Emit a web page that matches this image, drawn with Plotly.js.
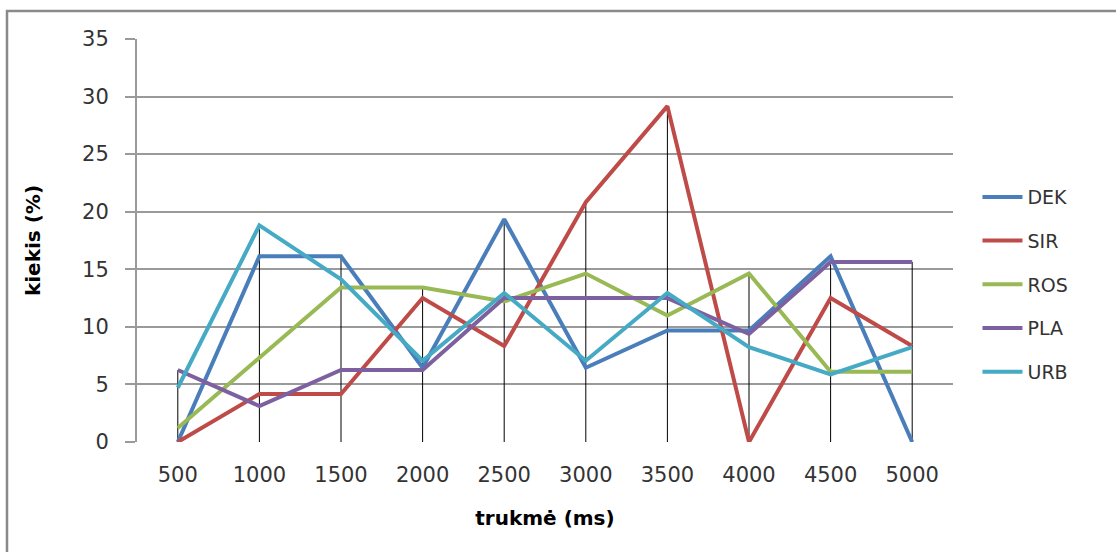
<!DOCTYPE html>
<html>
<head>
<meta charset="utf-8">
<script src="https://cdn.plot.ly/plotly-3.0.1.min.js"></script>
<style>
  html, body { margin: 0; padding: 0; background: #fff; }
  #chart { width: 1116px; height: 552px; }
</style>
</head>
<body>
<div id="chart"></div>
<script>
// Duration categories (ms)
const categories = ['500', '1000', '1500', '2000', '2500', '3000', '3500', '4000', '4500', '5000'];

// Share of responses (%) per group
const dek = [0, 16.13, 16.13, 6.45, 19.35, 6.45, 9.68, 9.68, 16.13, 0];
const sir = [0, 4.17, 4.17, 12.5, 8.33, 20.83, 29.17, 0, 12.5, 8.33];
const ros = [1.22, 7.32, 13.41, 13.41, 12.2, 14.63, 10.98, 14.63, 6.1, 6.1];
const pla = [6.25, 3.13, 6.25, 6.25, 12.5, 12.5, 12.5, 9.38, 15.63, 15.63];
const urb = [4.71, 18.82, 14.12, 7.06, 12.94, 7.06, 12.94, 8.24, 5.88, 8.24];

const seriesNames = ['DEK', 'SIR', 'ROS', 'PLA', 'URB'];
const seriesValues = [dek, sir, ros, pla, urb];
const seriesColors = ['#4a7ebb', '#be4b48', '#98b954', '#7d60a0', '#46aac5'];

// Drop lines: from the axis up to the highest value in each category
const dropX = [], dropY = [];
categories.forEach((c, i) => {
  const top = Math.max(...seriesValues.map(s => s[i]));
  dropX.push(c, c, null);
  dropY.push(0, top, null);
});

const traces = [{
  x: dropX, y: dropY, type: 'scatter', mode: 'lines',
  line: { color: '#000', width: 1 },
  showlegend: false, hoverinfo: 'skip'
}];

seriesNames.forEach((name, k) => {
  traces.push({
    x: categories, y: seriesValues[k], name: name, legendgroup: name,
    type: 'scatter', mode: 'lines',
    line: { color: seriesColors[k], width: 4 }
  });
});

const fontFamily = '"DejaVu Sans", "Liberation Sans", sans-serif';
const gridGray = '#9a9a9a';

const layout = {
  width: 1116, height: 552,
  margin: { l: 137, r: 163, t: 39, b: 110 },
  paper_bgcolor: '#fff', plot_bgcolor: '#fff',
  font: { family: fontFamily, color: '#333' },
  showlegend: true,
  legend: {
    x: 1.03, y: 0.655, xanchor: 'left', yanchor: 'top',
    font: { size: 19, color: '#333', family: fontFamily },
    traceorder: 'grouped', tracegroupgap: 16,
    itemwidth: 40, bgcolor: 'rgba(0,0,0,0)'
  },
  xaxis: {
    type: 'category', range: [-0.5, 9.5],
    showgrid: false, showline: false, zeroline: false,
    ticks: '', ticklabelstandoff: 18,
    tickfont: { size: 21, color: '#333' },
    title: { text: 'trukmė (ms)', font: { size: 20, color: '#000', family: fontFamily, weight: 'bold' }, standoff: 24 }
  },
  yaxis: {
    range: [0, 35], dtick: 5, tick0: 0,
    showgrid: true, gridcolor: gridGray, gridwidth: 2,
    showline: true, linecolor: gridGray, linewidth: 2,
    zeroline: false,
    ticks: 'outside', ticklen: 10, tickcolor: gridGray, tickwidth: 2,
    ticklabelstandoff: 12,
    tickfont: { size: 21, color: '#333' },
    title: { text: 'kiekis (%)', font: { size: 20, color: '#000', family: fontFamily, weight: 'bold' }, standoff: 36 }
  },
  shapes: [{
    // chart frame
    type: 'rect', xref: 'paper', yref: 'paper',
    x0: -0.1593, x1: 1.25, y0: -0.35, y1: 1.0695,
    line: { color: '#8a8a8a', width: 2.5 }, fillcolor: 'rgba(0,0,0,0)', layer: 'below'
  }]
};

Plotly.newPlot('chart', traces, layout, { displayModeBar: false, staticPlot: true });
</script>
</body>
</html>
